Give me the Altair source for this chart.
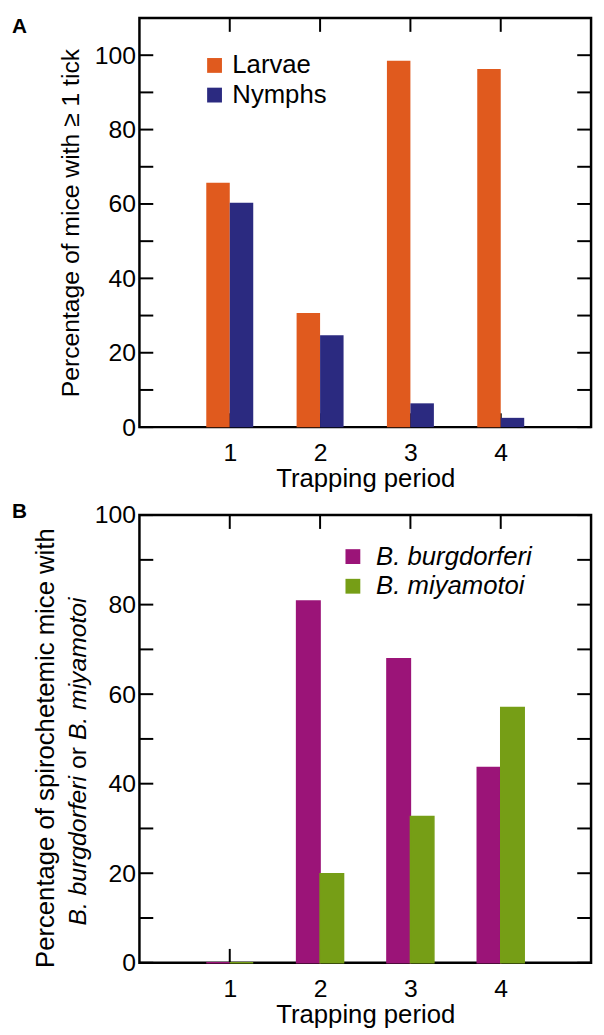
import altair as alt
import pandas as pd

# ---- data ----
periods = [1, 2, 3, 4]
larvae = [65.7, 30.7, 98.5, 96.3]
nymphs = [60.3, 24.7, 6.4, 2.5]
burgdorferi = [0.0, 80.8, 67.9, 43.6]
miyamotoi = [0.0, 19.9, 32.7, 57.0]

series_a = ["Larvae", "Nymphs"]
series_b = ["B. burgdorferi", "B. miyamotoi"]
colors_a = ["#E05A1E", "#2B2A80"]
colors_b = ["#9B1478", "#769E16"]

y_tick_values = list(range(0, 101, 10))
y_label_values = [0, 20, 40, 60, 80, 100]
x_tick_values = periods

title_a_y = "Percentage of mice with \u2265 1 tick"
title_b_line1 = "Percentage of spirochetemic mice with"
title_b_bb = "B. burgdorferi"
title_b_or = "or"
title_b_bm = "B. miyamotoi"
x_title = "Trapping period"

FONT = "Liberation Sans"
W = 457
HA = 414
HB = 453
BW = 0.26
TL = 14  # tick length
LABEL_FS = 25
TITLE_FS = 26


def long_df(series, s1, s2):
    rows = []
    for i, p in enumerate(periods):
        rows.append({"period": p, "series": series[0], "idx": 0, "value": s1[i]})
        rows.append({"period": p, "series": series[1], "idx": 1, "value": s2[i]})
    return pd.DataFrame(rows)


def text_layer(txt, x, y, size, **kw):
    return alt.Chart(pd.DataFrame({"t": [txt]})).mark_text(
        font=FONT, fontSize=size, color="black", **kw
    ).encode(text="t:N", x=alt.value(x), y=alt.value(y))


def panel(df, series, colors, ymax, height, lx, ly, loff, italic, letter, letter_y, ytitle, stroke):
    xscale = alt.Scale(domain=[0, 5], nice=False, zero=False)
    yscale = alt.Scale(domain=[0, ymax], nice=False)
    xaxis = alt.Axis(values=x_tick_values, format="d", title=x_title, domain=False,
                     ticks=False, tickSize=0, grid=False, labelPadding=14,
                     labelFontSize=LABEL_FS, titleFontSize=TITLE_FS, titlePadding=0,
                     labelFont=FONT, titleFont=FONT, titleFontWeight="normal",
                     labelColor="black", titleColor="black")
    if ytitle:
        yaxis = alt.Axis(values=y_label_values, title=ytitle, domain=False, ticks=False,
                         tickSize=0, grid=False, labelPadding=4, labelFontSize=LABEL_FS,
                         titleFontSize=25, titlePadding=11, labelFont=FONT, titleFont=FONT,
                         titleFontWeight="normal", labelColor="black", titleColor="black")
    else:
        yaxis = alt.Axis(values=y_label_values, title=None, domain=False, ticks=False,
                         tickSize=0, grid=False, labelPadding=4, labelFontSize=LABEL_FS,
                         labelFont=FONT, labelColor="black")

    xt = pd.DataFrame({"t": x_tick_values})
    yt = pd.DataFrame({"t": y_tick_values})
    rule = dict(color="black", strokeWidth=2)
    bottom = alt.Chart(xt).mark_rule(**rule).encode(
        x=alt.X("t:Q", scale=xscale, axis=xaxis), y=alt.value(height - TL), y2=alt.value(height))
    top = alt.Chart(xt).mark_rule(**rule).encode(
        x=alt.X("t:Q", scale=xscale, axis=xaxis), y=alt.value(0), y2=alt.value(TL))
    left = alt.Chart(yt).mark_rule(**rule).encode(
        y=alt.Y("t:Q", scale=yscale, axis=yaxis), x=alt.value(0), x2=alt.value(TL))
    right = alt.Chart(yt).mark_rule(**rule).encode(
        y=alt.Y("t:Q", scale=yscale, axis=yaxis), x=alt.value(W - TL), x2=alt.value(W))

    legend_kw = dict(orient="none", legendX=lx, legendY=ly, title=None, symbolType="square",
                     symbolSize=225, symbolStrokeWidth=0, symbolOpacity=1,
                     labelFontSize=26, labelFont=FONT, labelColor="black",
                     labelOffset=loff, rowPadding=4, padding=0)
    if italic:
        legend_kw["labelFontStyle"] = "italic"
    cscale = alt.Scale(domain=series, range=colors)
    enc = dict(
        x=alt.X("x0:Q", scale=xscale, axis=xaxis),
        x2="x1:Q",
        y=alt.Y("value:Q", scale=yscale, axis=yaxis),
        y2=alt.datum(0),
        color=alt.Color("series:N", scale=cscale, legend=alt.Legend(**legend_kw)),
    )
    if stroke:
        enc["stroke"] = alt.Stroke("series:N", scale=cscale, legend=None)
    bars = alt.Chart(df).transform_calculate(
        x0=f"datum.period + (datum.idx - 1) * {BW}",
        x1=f"datum.period + datum.idx * {BW}",
    ).mark_bar(strokeWidth=1.5 if stroke else 0).encode(**enc)

    letter_layer = text_layer(letter, -129, letter_y, 21,
                              fontWeight="bold", align="left", baseline="alphabetic")
    layers = [bottom, bars, top, left, right, letter_layer]
    return layers


df_a = long_df(series_a, larvae, nymphs)
df_b = long_df(series_b, burgdorferi, miyamotoi)

layers_a = panel(df_a, series_a, colors_a, 110, HA, 63, 35, 5, False, "A", 15, title_a_y, False)
chart_a = alt.layer(*layers_a).properties(width=W, height=HA)

layers_b = panel(df_b, series_b, colors_b, 100, HB, 203, 29, 10.5, True, "B", 3.3, None, True)
layers_b += [
    text_layer(title_b_line1, -86, 235.8, 26, angle=270, align="center", baseline="alphabetic"),
    text_layer(title_b_bb, -54, 264, 25, angle=270, align="right", baseline="alphabetic",
               fontStyle="italic"),
    text_layer(title_b_or, -54, 245.8, 25, angle=270, align="center", baseline="alphabetic"),
    text_layer(title_b_bm, -54, 227.7, 25, angle=270, align="left", baseline="alphabetic",
               fontStyle="italic"),
]
chart_b = alt.layer(*layers_b).properties(width=W, height=HB)

chart = alt.vconcat(chart_a, chart_b, spacing=7).resolve_scale(
    color="independent", stroke="independent"
).properties(
    padding={"left": 2, "top": 0, "right": 2, "bottom": 2}
).configure_view(stroke="black", strokeWidth=2.5)

chart.save("out.html", embed_options={"renderer": "svg", "actions": False})
